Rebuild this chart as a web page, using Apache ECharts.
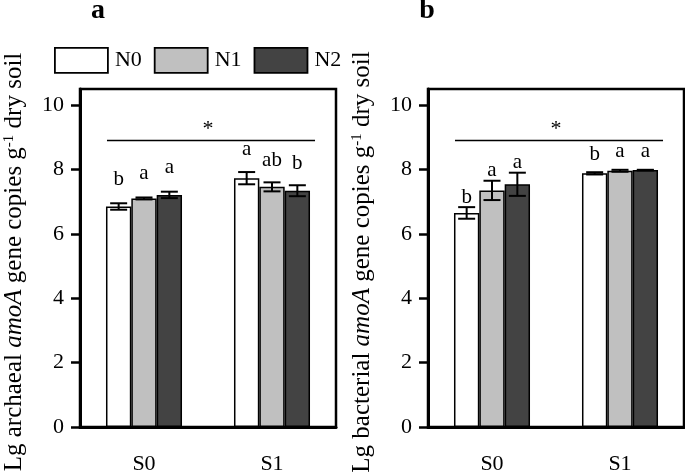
<!DOCTYPE html>
<html>
<head>
<meta charset="utf-8">
<script src="https://cdn.jsdelivr.net/npm/echarts@6/dist/echarts.min.js"></script>
<style>
html,body{margin:0;padding:0;background:#fff;}
#chart{width:685px;height:475px;}
</style>
</head>
<body>
<div id="chart"></div>
<script>
// ---- data ----
const categories = ['S0', 'S1'];
const groups = ['N0', 'N1', 'N2'];
const yTicks = [0, 2, 4, 6, 8, 10];

// archaeal amoA (panel a)
const archN0 = [6.85, 7.73];
const archN1 = [7.10, 7.46];
const archN2 = [7.21, 7.34];
const archErrN0 = [0.10, 0.19];
const archErrN1 = [0.03, 0.14];
const archErrN2 = [0.10, 0.17];
const archLetN0 = ['b', 'a'];
const archLetN1 = ['a', 'ab'];
const archLetN2 = ['a', 'b'];

// bacterial amoA (panel b)
const bactN0 = [6.65, 7.88];
const bactN1 = [7.35, 7.96];
const bactN2 = [7.54, 7.98];
const bactErrN0 = [0.18, 0.035];
const bactErrN1 = [0.30, 0.03];
const bactErrN2 = [0.36, 0.01];
const bactLetN0 = ['b', 'b'];
const bactLetN1 = ['a', 'a'];
const bactLetN2 = ['a', 'a'];

const sigLevel = 8.9;
const sigMark = '*';
const panelLabels = ['a', 'b'];
const yNames = [
  '{n|Lg archaeal }{i|amoA}{n| gene copies g}{s|-1}{n| dry soil}',
  '{n|Lg bacterial }{i|amoA}{n| gene copies g}{s|-1}{n| dry soil}'
];

// ---- styles ----
const FONT = '"Liberation Serif", "Times New Roman", serif';
const colors = ['#ffffff', '#c0c0c0', '#434343'];
const GAP = 0.406;
const letterGaps = [[17, 15], [3, 11]];

const chart = echarts.init(document.getElementById('chart'));

function buildErrData(means, errs) {
  const out = [];
  for (let g = 0; g < 3; g++) {
    for (let c = 0; c < categories.length; c++) {
      out.push([c, g, means[g][c], errs[g][c]]);
    }
  }
  return out;
}
function buildLetters(lets) {
  const out = [];
  for (let g = 0; g < 3; g++) for (let c = 0; c < categories.length; c++) out.push(lets[g][c]);
  return out;
}

const panels = [
  { means: [archN0, archN1, archN2], errs: [archErrN0, archErrN1, archErrN2], lets: [archLetN0, archLetN1, archLetN2] },
  { means: [bactN0, bactN1, bactN2], errs: [bactErrN0, bactErrN1, bactErrN2], lets: [bactLetN0, bactLetN1, bactLetN2] }
];

const grids = [
  { left: 80, top: 89, width: 256, height: 340.3 },
  { left: 428, top: 89, width: 256, height: 340.3 }
].map(g => Object.assign(g, { show: true, borderColor: '#000', borderWidth: 2.5, containLabel: false }));

const xAxes = [0, 1].map(i => ({
  type: 'category', gridIndex: i, data: categories,
  axisLine: { lineStyle: { color: '#000', width: 3 } },
  axisTick: { show: false },
  axisLabel: { color: '#000', fontFamily: FONT, fontSize: 22, margin: 26 }
}));

const yAxes = [0, 1].map(i => ({
  type: 'value', gridIndex: i, min: 0, max: 10.5,
  name: yNames[i], nameLocation: 'middle', nameGap: 53,
  nameTextStyle: {
    color: '#000', fontFamily: FONT, fontSize: 25, padding: [0, 8, 0, 0],
    rich: {
      n: { fontFamily: FONT, fontSize: 25, color: '#000' },
      i: { fontFamily: FONT, fontSize: 25, fontStyle: 'italic', color: '#000' },
      s: { fontFamily: FONT, fontSize: 15, color: '#000', verticalAlign: 'top' }
    }
  },
  axisLine: { show: true, lineStyle: { color: '#000', width: 3 } },
  axisTick: { show: true, length: 9, lineStyle: { color: '#000', width: 2.5 }, customValues: yTicks },
  axisLabel: { color: '#000', fontFamily: FONT, fontSize: 22, margin: 16, customValues: yTicks },
  splitLine: { show: false }
}));

const series = [];
panels.forEach((p, pi) => {
  groups.forEach((g, gi) => {
    series.push({
      type: 'bar', name: g, xAxisIndex: pi, yAxisIndex: pi,
      data: p.means[gi],
      barGap: '0%', barCategoryGap: (GAP * 100) + '%',
      itemStyle: { color: colors[gi], borderColor: '#000', borderWidth: 1.5 },
      emphasis: { disabled: true }
    });
  });
  const letters = buildLetters(p.lets);
  series.push({
    type: 'custom', xAxisIndex: pi, yAxisIndex: pi, z: 5,
    data: buildErrData(p.means, p.errs),
    encode: { x: 0, y: 2 },
    renderItem: function (params, api) {
      const c = api.value(0), g = api.value(1), m = api.value(2), e = api.value(3);
      const band = api.size([1, 0])[0];
      const bw = band * (1 - GAP) / 3;
      const x = api.coord([c, m])[0] + (g - 1) * bw;
      const yT = api.coord([c, m + e])[1];
      const yB = api.coord([c, m - e])[1];
      const cap = 8.5;
      const st = { stroke: '#000', lineWidth: 2 };
      const base = yT - letterGaps[pi][c];
      return {
        type: 'group',
        children: [
          { type: 'line', shape: { x1: x, y1: yT, x2: x, y2: yB }, style: st },
          { type: 'line', shape: { x1: x - cap, y1: yT, x2: x + cap, y2: yT }, style: st },
          { type: 'line', shape: { x1: x - cap, y1: yB, x2: x + cap, y2: yB }, style: st },
          { type: 'text', style: { x: x, y: base - 0.3375 * 21, text: letters[params.dataIndex],
            align: 'center', verticalAlign: 'middle', fill: '#000', font: '21px ' + FONT } }
        ]
      };
    }
  });
  series.push({
    type: 'custom', xAxisIndex: pi, yAxisIndex: pi, z: 5,
    data: [[0, sigLevel]],
    encode: { x: 0, y: 1 },
    renderItem: function (params, api) {
      const band = api.size([1, 0])[0];
      const bw = band * (1 - GAP) / 3;
      const y = api.coord([0, api.value(1)])[1];
      const x0 = api.coord([0, 0])[0] - 1.5 * bw + 1;
      const x1 = api.coord([1, 0])[0] + 1.5 * bw + 5;
      return {
        type: 'group',
        children: [
          { type: 'line', shape: { x1: x0, y1: y, x2: x1, y2: y }, style: { stroke: '#000', lineWidth: 1.5 } },
          { type: 'text', style: { x: (x0 + x1) / 2 - 3, y: y - 11, text: sigMark, align: 'center',
            verticalAlign: 'middle', fill: '#000', font: '22px ' + FONT } }
        ]
      };
    }
  });
});

const option = {
  backgroundColor: '#fff',
  animation: false,
  grid: grids,
  xAxis: xAxes,
  yAxis: yAxes,
  legend: {
    data: groups, left: 54, top: 47, padding: 0,
    itemWidth: 53, itemHeight: 25, itemGap: 12,
    icon: 'rect', selectedMode: false,
    itemStyle: { borderColor: '#000', borderWidth: 1.8 },
    textStyle: { color: '#000', fontFamily: FONT, fontSize: 22, padding: [0, 0, 0, 2] }
  },
  graphic: [
    { type: 'text', style: { x: 98, y: 11, text: panelLabels[0], align: 'center', verticalAlign: 'middle',
      fill: '#000', font: 'bold 28px ' + FONT } },
    { type: 'text', style: { x: 427, y: 11, text: panelLabels[1], align: 'center', verticalAlign: 'middle',
      fill: '#000', font: 'bold 28px ' + FONT } }
  ],
  series: series
};
chart.setOption(option);
</script>
</body>
</html>
